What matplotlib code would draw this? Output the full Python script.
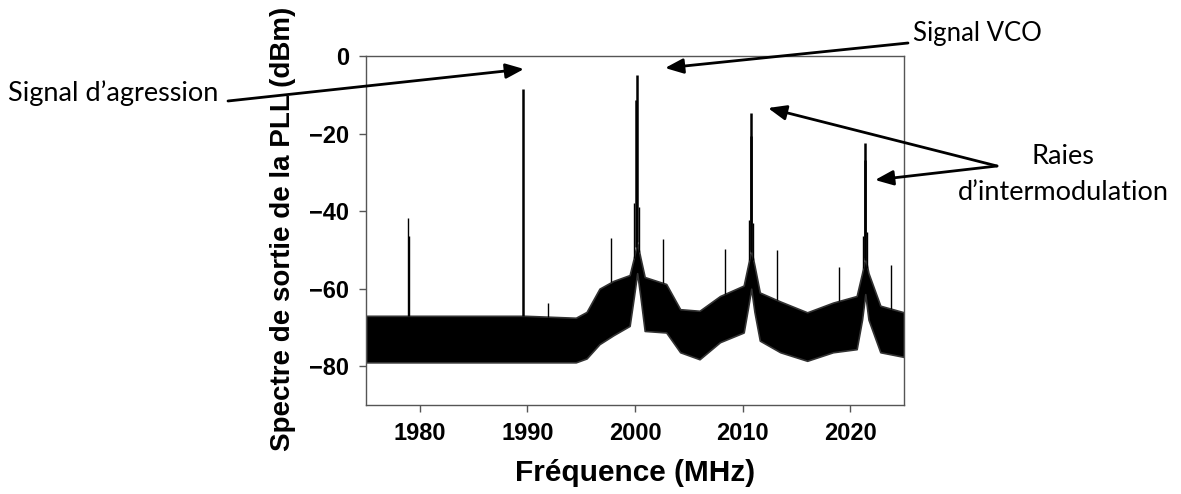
import matplotlib
matplotlib.use('Agg')
import matplotlib.pyplot as plt
import numpy as np

# noise floor envelope (MHz, dBm)
noise_f  = [1975.0, 1989.4, 1989.8, 1994.5, 1995.5, 1996.7, 1998.0, 1999.5, 1999.9, 2000.2, 2000.5,
            2000.9, 2002.9, 2004.2, 2006.0, 2007.9, 2010.1, 2010.5, 2010.8, 2011.1, 2011.6, 2013.5,
            2016.0, 2018.4, 2020.6, 2021.1, 2021.4, 2021.7, 2022.8, 2025.0]
noise_hi = [-67.0, -67.0, -67.0, -67.5, -66.0, -60.0, -58.0, -56.5, -52.0, -48.0, -52.0,
            -57.0, -58.8, -65.3, -65.7, -61.9, -59.2, -54.0, -50.0, -54.0, -61.0, -63.3,
            -66.1, -63.6, -61.9, -56.0, -52.0, -56.0, -64.4, -66.1]
noise_lo = [-79.0, -79.0, -79.0, -79.0, -78.0, -74.3, -72.0, -69.6, -62.0, -56.0, -62.0,
            -70.9, -71.3, -76.4, -78.2, -73.8, -71.3, -65.0, -60.0, -66.0, -73.4, -76.4,
            -78.6, -76.4, -75.6, -68.0, -61.4, -68.0, -76.4, -77.6]

# main lines: agression, VCO, intermodulation
carrier_f  = [1989.6, 2000.2, 2000.1, 2010.8, 2010.75, 2021.4, 2021.35]
carrier_db = [-8.6, -4.9, -11.3, -14.6, -20.7, -22.4, -26.7]

# smaller spurs
spur_f  = [1978.9, 1979.0, 1991.9, 1997.8, 1999.9, 2000.4, 2002.6, 2008.4, 2010.6, 2011.0,
           2013.2, 2019.0, 2021.2, 2021.6, 2023.8]
spur_db = [-41.9, -46.4, -63.8, -47.0, -38.0, -39.0, -47.3, -49.7, -42.2, -43.0,
           -49.9, -54.4, -46.3, -45.5, -54.0]

W, H = 1181, 494
def fp(x, y):
    return (x / W, 1 - y / H)

fig = plt.figure(figsize=(W / 100, H / 100), dpi=100)
ax = fig.add_axes([366 / W, 1 - 405 / H, (904 - 366) / W, (405 - 56) / H])

ax.fill_between(noise_f, noise_lo, noise_hi, color='black', lw=1.2, edgecolor='#333333')
ax.vlines(spur_f, np.interp(spur_f, noise_f, noise_hi), spur_db, color='black', lw=1)
ax.vlines(carrier_f, np.interp(carrier_f, noise_f, noise_hi), carrier_db, color='black', lw=1.8)

ax.set_xlim(1975, 2025)
ax.set_ylim(-90, 0)
ax.set_xticks([1980, 1990, 2000, 2010, 2020])
ax.set_yticks([0, -20, -40, -60, -80])
for s in ax.spines.values():
    s.set_color('#555555')
    s.set_linewidth(1)
ax.tick_params(direction='out', length=5, width=1, color='#555555', pad=7)
for lab in ax.get_xticklabels() + ax.get_yticklabels():
    lab.set_fontfamily('Liberation Sans')
    lab.set_fontweight('bold')
    lab.set_fontsize(17)

ax.set_xlabel('Fréquence (MHz)', fontfamily='Liberation Sans', fontweight='bold', fontsize=21.5, labelpad=10)
ax.set_ylabel('Spectre de sortie de la PLL (dBm)', fontfamily='Liberation Sans', fontweight='bold',
              fontsize=20)
ax.yaxis.set_label_coords(-0.130, 0.505)

# annotations
txt = dict(fontfamily='Lato', fontsize=19.5, color='black')
fig.text(*fp(8, 93), 'Signal d’agression', ha='left', va='center', **txt)
fig.text(*fp(977, 33), 'Signal VCO', ha='center', va='center', fontfamily='Lato', fontsize=18.5)
fig.text(*fp(1063, 156), 'Raies', ha='center', va='center', **txt)
fig.text(*fp(1063, 193), 'd’intermodulation', ha='center', va='center', **txt)

arrows = [((228, 101), (524, 69)),
          ((908, 43), (665, 68)),
          ((997, 166), (768, 108)),
          ((997, 166), (875, 180))]
for start, tip in arrows:
    ax.annotate('', xy=fp(*tip), xytext=fp(*start), xycoords='figure fraction',
                textcoords='figure fraction', annotation_clip=False,
                arrowprops=dict(arrowstyle='-|>,head_length=1.1,head_width=0.45', lw=2,
                                color='black', shrinkA=0, shrinkB=0))

fig.savefig('out.png', dpi=100)
